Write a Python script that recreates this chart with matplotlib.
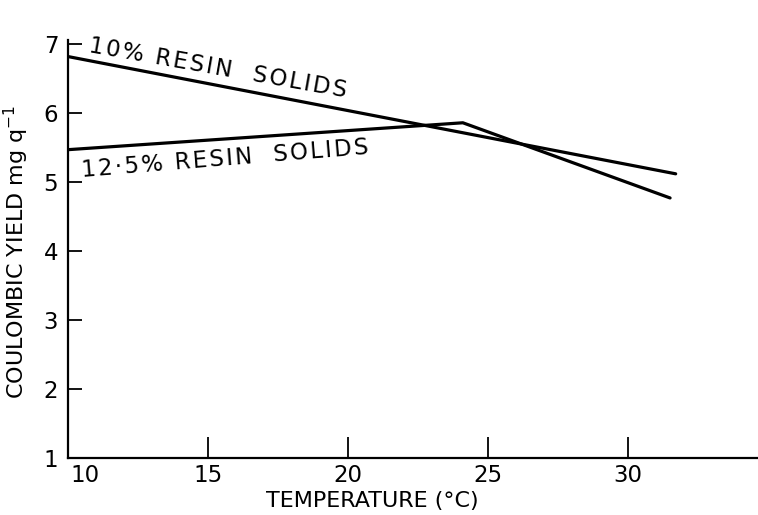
import matplotlib
matplotlib.use("Agg")
import matplotlib.pyplot as plt
from matplotlib.transforms import ScaledTranslation

# temperature (degC) vs coulombic yield (mg/C) for two resin solid contents
temp_10 = [10.0, 31.7]
yield_10 = [6.82, 5.12]

temp_125 = [10.0, 24.1, 31.5]
yield_125 = [5.47, 5.86, 4.77]

x_ticks = [10, 15, 20, 25, 30]
y_ticks = [1, 2, 3, 4, 5, 6, 7]

label_10 = "10% RESIN  SOLIDS"
label_125 = "12·5% RESIN  SOLIDS"

plt.rcParams["font.family"] = ["DejaVu Sans"]


def spaced(s):
    # open up the lettering a little with hair spaces
    return "\u200a".join(s)


fig = plt.figure(figsize=(7.58, 5.15), dpi=100)
ax = fig.add_axes([68 / 758, 57 / 515, 690 / 758, 418 / 515])

ax.plot(temp_10, yield_10, color="black", lw=2.3, solid_capstyle="round")
ax.plot(temp_125, yield_125, color="black", lw=2.3, solid_capstyle="round")

ax.set_xlim(10, 34.64)
ax.set_ylim(1, 7.06)

for side in ("top", "right"):
    ax.spines[side].set_visible(False)
for side in ("left", "bottom"):
    ax.spines[side].set_linewidth(1.6)

ax.set_xticks(x_ticks)
ax.set_yticks(y_ticks)
ax.tick_params(axis="x", direction="in", length=15, width=1.3, pad=4, labelsize=16.5)
ax.tick_params(axis="y", direction="in", length=10, width=1.3, pad=7, labelsize=16.5)

# first x label sits to the right of the corner
first = ax.get_xticklabels()[0]
first.set_transform(first.get_transform() + ScaledTranslation(0.17, 0, fig.dpi_scale_trans))

# curve labels written along the lines
ax.text(10.7, 6.88, spaced(label_10), fontsize=16.5, rotation=-10,
        rotation_mode="anchor", ha="left", va="baseline")
ax.text(10.5, 5.07, spaced(label_125), fontsize=16.5, rotation=4.6,
        rotation_mode="anchor", ha="left", va="baseline")

fig.text(372 / 758, 1 - 501 / 515, "TEMPERATURE (°C)", fontsize=16,
         ha="center", va="center")
fig.text(16 / 758, 1 - 252 / 515, "COULOMBIC YIELD mg q$^{-1}$",
         fontsize=16, ha="center", va="center", rotation=90)

fig.savefig("out.png", dpi=100, facecolor="white")
